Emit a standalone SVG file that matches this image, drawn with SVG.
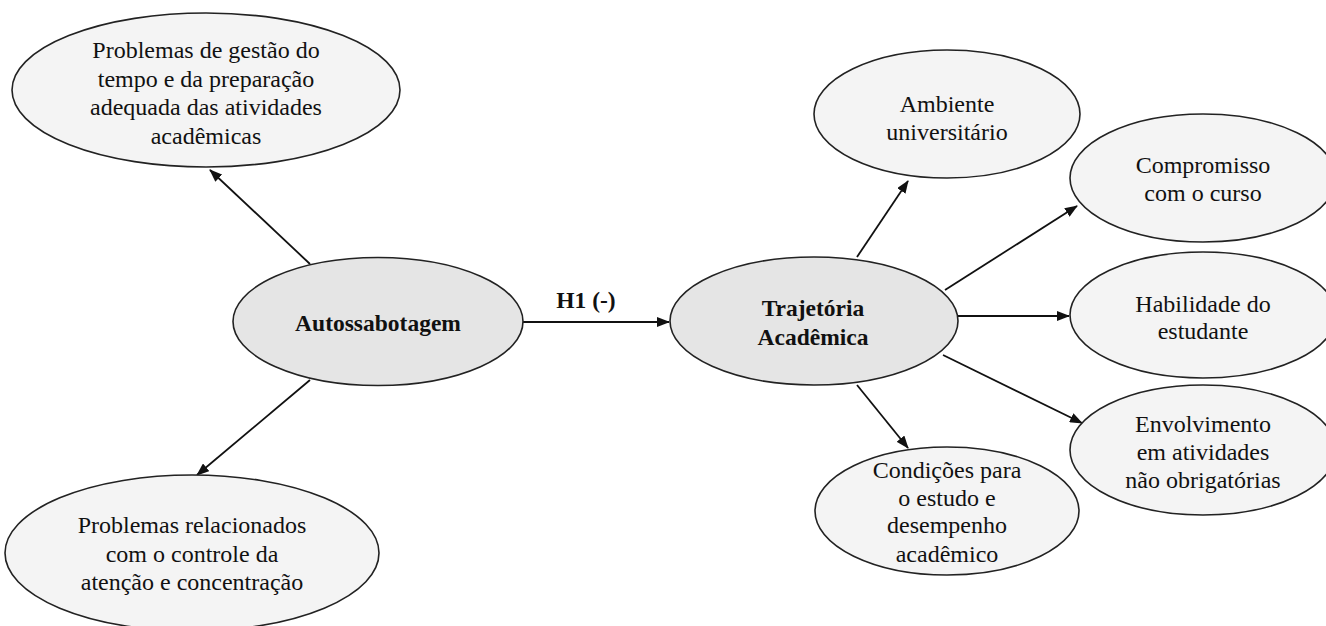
<svg xmlns="http://www.w3.org/2000/svg" width="1326" height="626" viewBox="0 0 1326 626">
<style>
.n ellipse{fill:#f4f4f4;stroke:#222;stroke-width:1.6}
.c ellipse{fill:#e5e5e5;stroke:#222;stroke-width:1.6}
text{font-family:"Liberation Serif","Times New Roman",serif;font-size:24px;fill:#111;text-anchor:middle}
.b{font-weight:bold;font-size:23.5px}
.e line{stroke:#111;stroke-width:1.8;marker-end:url(#ah)}
</style>
<defs>
<marker id="ah" markerWidth="13" markerHeight="10" refX="12" refY="5" orient="auto" markerUnits="userSpaceOnUse"><path d="M0,0 L13,5 L0,10 z" fill="#111"/></marker>
</defs>
<g id="edges" class="e">
<line x1="310" y1="264" x2="210" y2="170"/>
<line x1="310" y1="380" x2="197" y2="475"/>
<line x1="523" y1="322" x2="669" y2="322"/>
<line x1="857" y1="257" x2="908" y2="181"/>
<line x1="945" y1="290" x2="1077" y2="206"/>
<line x1="958" y1="316" x2="1069" y2="316"/>
<line x1="943" y1="355" x2="1082" y2="423"/>
<line x1="857" y1="385" x2="908" y2="448"/>
</g>
<text class="b" x="586" y="308">H1 (-)</text>
<g id="n_gestao" class="n"><ellipse cx="206" cy="90" rx="194" ry="77"/>
<text x="206" y="58">Problemas de gestão do</text><text x="206" y="86.5">tempo e da preparação</text><text x="206" y="115">adequada das atividades</text><text x="206" y="143.5">acadêmicas</text></g>
<g id="n_atencao" class="n"><ellipse cx="192" cy="553" rx="187" ry="78"/>
<text x="192" y="533">Problemas relacionados</text><text x="192" y="561.5">com o controle da</text><text x="192" y="590">atenção e concentração</text></g>
<g id="n_auto" class="c"><ellipse cx="378" cy="321.5" rx="145" ry="64"/>
<text class="b" x="378" y="331">Autossabotagem</text></g>
<g id="n_traj" class="c"><ellipse cx="814" cy="321" rx="144" ry="64"/>
<text class="b" x="813" y="316">Trajetória</text><text class="b" x="813" y="345">Acadêmica</text></g>
<g id="n_ambiente" class="n"><ellipse cx="947" cy="114" rx="133" ry="64"/>
<text x="947" y="112">Ambiente</text><text x="947" y="140">universitário</text></g>
<g id="n_compromisso" class="n"><ellipse cx="1203" cy="178" rx="133" ry="64"/>
<text x="1203" y="173">Compromisso</text><text x="1203" y="201">com o curso</text></g>
<g id="n_habilidade" class="n"><ellipse cx="1203" cy="315" rx="133" ry="63"/>
<text x="1203" y="312">Habilidade do</text><text x="1203" y="339">estudante</text></g>
<g id="n_envolvimento" class="n"><ellipse cx="1203" cy="450" rx="133" ry="65"/>
<text x="1203" y="432">Envolvimento</text><text x="1203" y="460">em atividades</text><text x="1203" y="488">não obrigatórias</text></g>
<g id="n_condicoes" class="n"><ellipse cx="947" cy="511" rx="132" ry="64"/>
<text x="947" y="478">Condições para</text><text x="947" y="506">o estudo e</text><text x="947" y="533">desempenho</text><text x="947" y="562">acadêmico</text></g>
</svg>
